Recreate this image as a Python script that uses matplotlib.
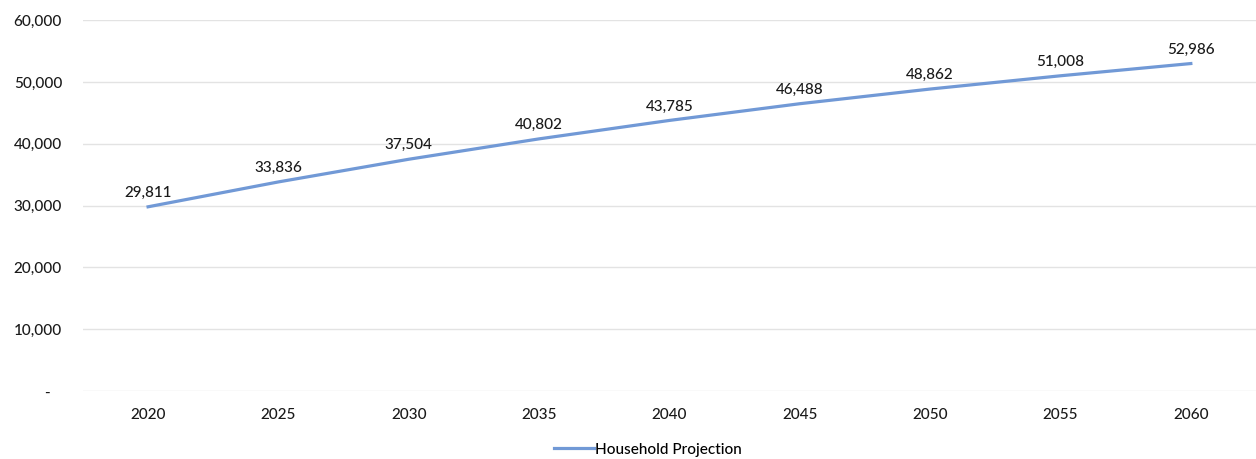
import matplotlib.pyplot as plt
from matplotlib.ticker import FuncFormatter

years = ['2020', '2025', '2030', '2035', '2040', '2045', '2050', '2055', '2060']
households = [29811, 33836, 37504, 40802, 43785, 46488, 48862, 51008, 52986]
y_ticks = [0, 10000, 20000, 30000, 40000, 50000, 60000]

plt.rcParams['font.family'] = ['Lato', 'DejaVu Sans']

fig = plt.figure(figsize=(12.56, 4.59), dpi=100)
ax = fig.add_axes([0.066, 0.148, 0.934, 0.808])

x = list(range(len(years)))
ax.plot(x, households, color='#7199d6', linewidth=2.3, label='Household Projection')

for xi, v in zip(x, households):
    ax.annotate(f'{v:,}', (xi, v), xytext=(0, 5), textcoords='offset points',
                ha='center', va='bottom', fontsize=11, fontweight='medium', color='#1a1a1a')

ax.set_xlim(-0.5, len(years) - 0.5)
ax.set_ylim(0, 60000)
ax.set_yticks(y_ticks)
ax.yaxis.set_major_formatter(FuncFormatter(lambda v, p: '-   ' if v == 0 else f'{int(v):,}'))
ax.set_xticks(x)
ax.set_xticklabels(years)
ax.tick_params(axis='both', length=0, labelsize=11, colors='#1a1a1a')
ax.tick_params(axis='y', pad=15)
ax.tick_params(axis='x', pad=12)
for lbl in ax.get_xticklabels() + ax.get_yticklabels():
    lbl.set_fontweight('medium')
ax.grid(axis='y', color='#e3e3e3', linewidth=1)
ax.set_axisbelow(True)
for s in ax.spines.values():
    s.set_visible(False)

leg = fig.legend(loc='lower center', bbox_to_anchor=(0.516, -0.025), frameon=False,
                 fontsize=11, handlelength=2.6, handletextpad=0.1)
for t in leg.get_texts():
    t.set_fontweight('medium')

fig.savefig('out.png', dpi=100)
